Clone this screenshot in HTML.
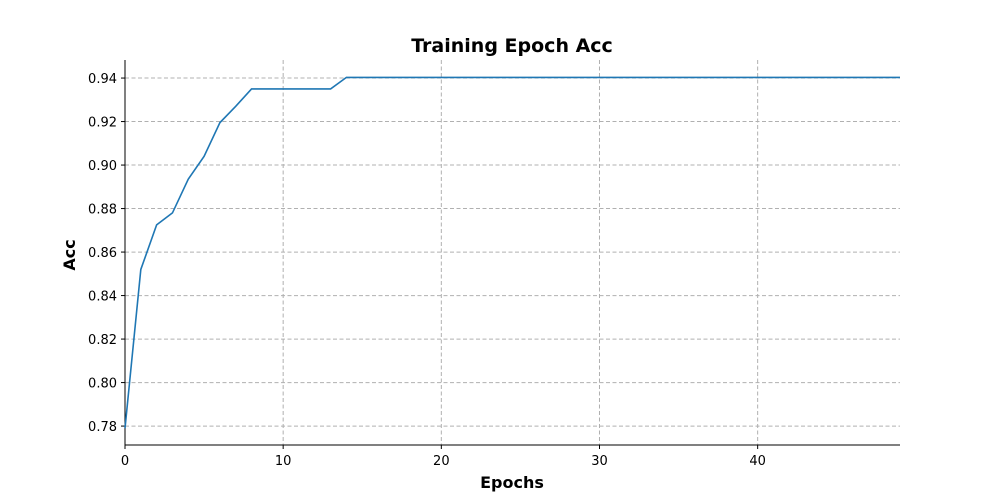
<!DOCTYPE html>
<html><head><meta charset="utf-8"><style>
body{margin:0;background:#fff;}
svg{display:block;font-family:"DejaVu Sans","Liberation Sans",sans-serif;}
</style></head><body>
<svg id="chart" width="1000" height="500">
<g id="grid"></g>
<g id="axes"></g>
<path id="line" fill="none" stroke="#1f77b4" stroke-width="1.6"/>
<text x="512" y="52" text-anchor="middle" font-size="19" font-weight="bold">Training Epoch Acc</text>
<text x="512" y="488" text-anchor="middle" font-size="16" font-weight="bold">Epochs</text>
<text transform="translate(75,255) rotate(-90)" text-anchor="middle" font-size="16" font-weight="bold">Acc</text>
</svg>
<script>
const epochs=[];for(let i=0;i<50;i++)epochs.push(i);
const accValues=[0.779,0.852,0.8725,0.878,0.8935,0.904,0.9195,0.927,0.935,0.935,0.935,0.935,0.935,0.935,0.9403,
0.9403,0.9403,0.9403,0.9403,0.9403,0.9403,0.9403,0.9403,0.9403,0.9403,0.9403,0.9403,0.9403,0.9403,0.9403,
0.9403,0.9403,0.9403,0.9403,0.9403,0.9403,0.9403,0.9403,0.9403,0.9403,0.9403,0.9403,0.9403,0.9403,0.9403,
0.9403,0.9403,0.9403,0.9403,0.9403];
const xTicks=[0,10,20,30,40];
const yTicks=[0.78,0.80,0.82,0.84,0.86,0.88,0.90,0.92,0.94];
const L=125,R=900,T=60,B=445,xmin=0,xmax=49,ymin=0.7713,ymax=0.9483;
const sx=v=>L+(v-xmin)/(xmax-xmin)*(R-L);
const sy=v=>B-(v-ymin)/(ymax-ymin)*(B-T);
const NS="http://www.w3.org/2000/svg";
const grid=document.getElementById('grid'),axes=document.getElementById('axes');
function mk(tag,attrs,parent){const e=document.createElementNS(NS,tag);for(const k in attrs)e.setAttribute(k,attrs[k]);parent.appendChild(e);return e;}
xTicks.forEach(t=>{
 const g=mk('line',{x1:sx(t),x2:sx(t),y1:T,y2:B,stroke:'#b0b0b0','stroke-dasharray':'4,2.5','stroke-width':1},grid);
 
 
 mk('line',{x1:sx(t),x2:sx(t),y1:B,y2:B+4,stroke:'#000'},axes);
 const tx=mk('text',{x:sx(t),y:B+20,'text-anchor':'middle','font-size':13},axes);tx.textContent=t;
 
 
});
yTicks.forEach(t=>{
 const g=mk('line',{x1:L,x2:R,y1:sy(t),y2:sy(t),stroke:'#b0b0b0','stroke-dasharray':'4,2.5','stroke-width':1},grid);
 
 
 mk('line',{x1:L-4,x2:L,y1:sy(t),y2:sy(t),stroke:'#000'},axes);
 const tx=mk('text',{x:L-8,y:sy(t)+5,'text-anchor':'end','font-size':13},axes);tx.textContent=t.toFixed(2);
 
 
});
const la=mk('line',{x1:L,x2:L,y1:T,y2:B,stroke:'#000'},axes);


const lb=mk('line',{x1:L,x2:R,y1:B,y2:B,stroke:'#000'},axes);


document.getElementById('line').setAttribute('d',epochs.map((e,i)=>(i?'L':'M')+sx(e)+','+sy(accValues[i])).join(''));
</script>
</body></html>
